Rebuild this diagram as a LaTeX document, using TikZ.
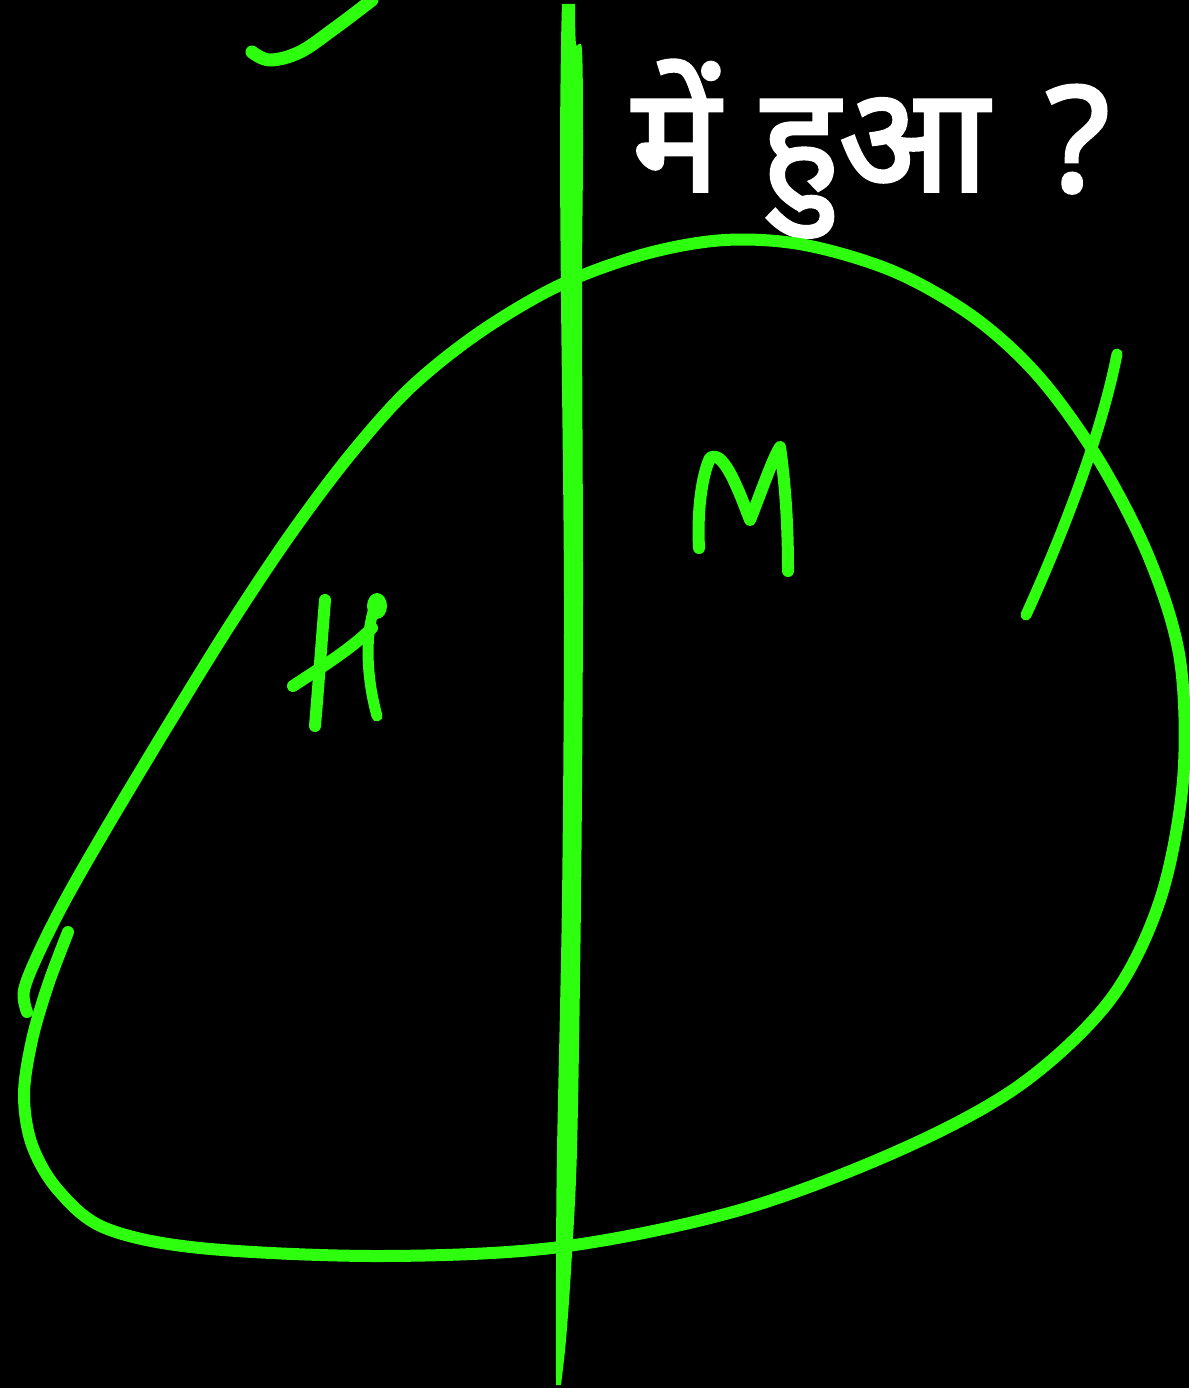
\documentclass[tikz,border=0pt]{standalone}
\usepackage{fontspec}
\newfontfamily\devfont[Script=Devanagari,FakeBold=2.5]{Noto Sans}
\definecolor{pen}{RGB}{46,255,14}
\begin{document}
\begin{tikzpicture}[x=1pt,y=-1pt,
  ink/.style={draw=pen,line cap=round,line join=round},
  loopline/.style={ink,line width=12pt},
  letter/.style={ink,line width=12pt}]
\fill[black] (0,0) rectangle (1189,1388);
\useasboundingbox (0,0) rectangle (1189,1388);
% title text
\node[anchor=base west,inner sep=0pt,text=white,font=\devfont\fontsize{146}{146}\selectfont] (title) at (632,191) {में\hspace{42pt}हुआ\hspace{58pt}?};
% top-left fragment
\draw[ink,line width=13pt] plot[smooth,tension=0.6] coordinates {(252,52) (270,60) (300,52) (335,28) (372,0)};
% main loop
\draw[loopline] plot[smooth,tension=0.55] coordinates {
 (68,932) (48,985) (32,1040) (24,1095) (32,1145) (58,1190) (105,1228)
 (200,1248) (380,1256) (560,1247) (740,1210) (900,1150) (1020,1085)
 (1110,1000) (1160,900) (1183,780) (1180,660) (1150,560) (1100,462)
 (1040,378) (975,318) (895,272) (805,245) (725,240) (645,254) (560,285)
 (480,332) (410,388) (350,455) (290,535) (230,625) (170,722) (110,822)
 (68,895) (40,950) (24,990) (27,1012)};
% vertical line (tapered)
\fill[pen] plot[smooth,tension=0.5] coordinates {(562,4) (561,45) (560,150) (561,300) (564,600) (562,900) (557,1150) (556,1270) (556,1385)}
  -- plot[smooth,tension=0.5] coordinates {(561,1385) (566,1340) (571,1270) (577,1150) (581,900) (583,600) (582,300) (583,150) (582,50) (576,44) (575,4)} -- cycle;
% H
\draw[letter] (325,600) .. controls (321,650) and (318,690) .. (315,726);
\draw[letter] (293,686) .. controls (320,668) and (350,650) .. (372,628);
\fill[pen] (377,606) ellipse (10pt and 13pt);
\draw[ink,line width=11pt] (373,612) .. controls (365,640) and (367,680) .. (377,716);
% M
\draw[letter] (699,548) .. controls (697,510) and (702,475) .. (710,458)
  .. controls (722,450) and (735,480) .. (750,520)
  .. controls (762,490) and (772,460) .. (780,447)
  .. controls (786,490) and (788,530) .. (788,571);
% cross at right
\draw[ink,line width=11pt] (1026,615) .. controls (1060,540) and (1100,440) .. (1117,354);
\end{tikzpicture}
\end{document}
